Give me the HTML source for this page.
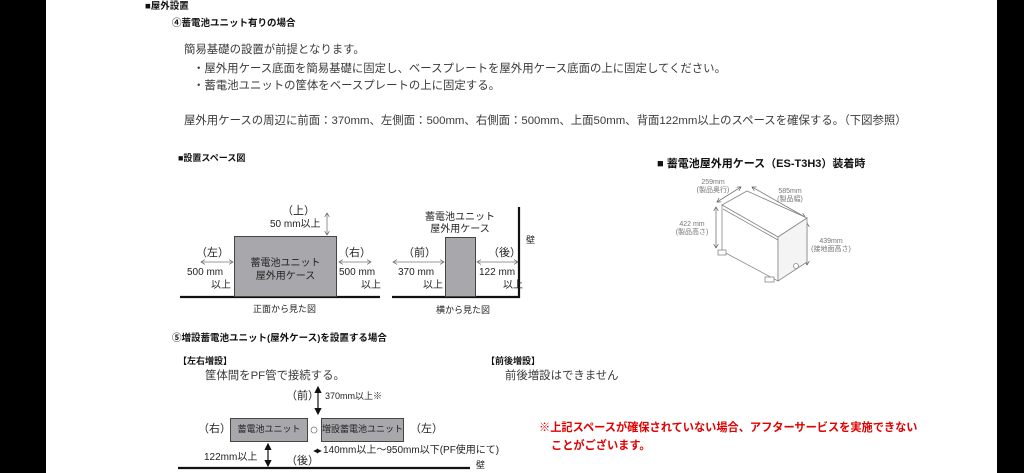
<!DOCTYPE html>
<html><head><meta charset="utf-8"><style>
body{margin:0;width:1024px;height:473px;background:#000;position:relative;overflow:hidden;font-family:"Liberation Sans","Noto Sans CJK JP",sans-serif;color:#333}
#pg{position:absolute;left:46px;top:0;width:951px;height:473px;background:#fff}
.t{position:absolute;white-space:nowrap;line-height:1}
.b{font-weight:bold;color:#111}
.box{position:absolute;background:#a8a8ac;border:1px solid #444;box-sizing:border-box}
.s{font-size:10px;color:#222}
.m{font-size:11.4px;color:#3a3a3a}
</style></head><body>
<div id="pg"></div>
<div class="t b" style="left:145px;top:2px;font-size:9.5px">■屋外設置</div>
<div class="t b" style="left:172px;top:19px;font-size:9.5px">④蓄電池ユニット有りの場合</div>
<div class="t m" style="left:184px;top:45px">簡易基礎の設置が前提となります。</div>
<div class="t m" style="left:193px;top:64px">・屋外用ケース底面を簡易基礎に固定し、ベースプレートを屋外用ケース底面の上に固定してください。</div>
<div class="t m" style="left:193px;top:81px">・蓄電池ユニットの筐体をベースプレートの上に固定する。</div>
<div class="t m" style="left:184px;top:116px">屋外用ケースの周辺に前面：370mm、左側面：500mm、右側面：500mm、上面50mm、背面122mm以上のスペースを確保する。（下図参照）</div>
<div class="t b" style="left:178px;top:154px;font-size:9px">■設置スペース図</div>

<svg style="position:absolute;left:0;top:0" width="1024" height="473">
<defs><marker id="a" markerWidth="6" markerHeight="6" refX="5" refY="3" orient="auto-start-reverse"><path d="M0,0 L5,3 L0,6" fill="none" stroke="#555" stroke-width="0.8"/></marker>
<marker id="k" markerWidth="6" markerHeight="6" refX="5" refY="3" orient="auto-start-reverse"><path d="M0,0 L6,3 L0,6z" fill="#111"/></marker></defs>
<g stroke="#111" stroke-width="2.2"><line x1="180" y1="297" x2="380" y2="297"/><line x1="392" y1="297" x2="520" y2="297"/><line x1="519" y1="207" x2="519" y2="298"/><line x1="178" y1="468" x2="470" y2="468"/></g>
<g stroke="#777" stroke-width="0.8" fill="none" marker-start="url(#a)" marker-end="url(#a)">
<line x1="327" y1="213" x2="327" y2="235"/><line x1="201" y1="262" x2="233" y2="262"/><line x1="339" y1="262" x2="371" y2="262"/>
<line x1="393" y1="262" x2="444" y2="262"/><line x1="477" y1="262" x2="518" y2="262"/>
<line x1="717" y1="202" x2="741" y2="187"/><line x1="752" y1="187" x2="805" y2="217"/>
<line x1="716" y1="207" x2="716" y2="248"/><line x1="807" y1="223" x2="807" y2="265"/>
</g>
<g stroke="#111" stroke-width="1.2" marker-start="url(#k)" marker-end="url(#k)">
<line x1="318" y1="387" x2="318" y2="414"/><line x1="268" y1="444" x2="268" y2="466"/><line x1="314" y1="451" x2="321" y2="451" stroke-width="0.8"/>
</g>
<g stroke="#888" stroke-width="0.8" fill="#fff">
<polygon points="722,205 747,191 807,218 778,237"/>
<polygon points="722,205 778,237 778,281 722,251"/>
<polygon points="778,237 807,218 807,262 778,281" fill="#f4f4f4"/>
<line x1="723" y1="209" x2="778" y2="240"/>
<rect x="718" y="250" width="8" height="5"/><rect x="765" y="277" width="9" height="5"/>
<circle cx="796" cy="266" r="2.5"/>
<circle cx="314" cy="430" r="3" stroke="#777"/>
</g>
</svg>

<div class="box" style="left:234px;top:236px;width:103px;height:61px"></div>
<div class="t s" style="left:234px;top:257px;width:103px;text-align:center;line-height:13px">蓄電池ユニット<br>屋外用ケース</div>
<div class="t s" style="left:282px;top:206px;font-size:11px">（上）</div>
<div class="t s" style="left:270px;top:220px">50 mm以上</div>
<div class="t s" style="left:196px;top:248px;font-size:11px">（左）</div>
<div class="t s" style="left:187px;top:268px">500 mm</div>
<div class="t s" style="left:211px;top:281px">以上</div>
<div class="t s" style="left:338px;top:248px;font-size:11px">（右）</div>
<div class="t s" style="left:339px;top:268px">500 mm</div>
<div class="t s" style="left:361px;top:281px">以上</div>
<div class="t s" style="left:253px;top:305px;font-size:9px">正面から見た図</div>

<div class="box" style="left:445px;top:237px;width:31px;height:60px"></div>
<div class="t s" style="left:420px;top:212px;width:80px;text-align:center;line-height:12px">蓄電池ユニット<br>屋外用ケース</div>
<div class="t s" style="left:403px;top:248px;font-size:11px">（前）</div>
<div class="t s" style="left:398px;top:268px">370 mm</div>
<div class="t s" style="left:423px;top:281px">以上</div>
<div class="t s" style="left:488px;top:248px;font-size:11px">（後）</div>
<div class="t s" style="left:479px;top:268px">122 mm</div>
<div class="t s" style="left:503px;top:281px">以上</div>
<div class="t s" style="left:526px;top:236px;font-size:9px">壁</div>
<div class="t s" style="left:436px;top:306px;font-size:9px">横から見た図</div>

<div class="t b" style="left:657px;top:159px;font-size:11px">■ 蓄電池屋外用ケース（ES-T3H3）装着時</div>
<div class="t" style="left:690px;top:179px;font-size:7px;color:#777;width:46px;text-align:center;line-height:8px">259mm<br>(製品奥行)</div>
<div class="t" style="left:770px;top:188px;font-size:7px;color:#777;width:40px;text-align:center;line-height:8px">585mm<br>(製品幅)</div>
<div class="t" style="left:672px;top:221px;font-size:7px;color:#777;width:40px;text-align:center;line-height:8px">422 mm<br>(製品高さ)</div>
<div class="t" style="left:808px;top:238px;font-size:7px;color:#777;width:46px;text-align:center;line-height:8px">439mm<br>(接地面高さ)</div>

<div class="t b" style="left:172px;top:334px;font-size:9.5px">⑤増設蓄電池ユニット(屋外ケース)を設置する場合</div>
<div class="t b" style="left:178px;top:357px;font-size:9px">【左右増設】</div>
<div class="t m" style="left:205px;top:371px">筐体間をPF管で接続する。</div>
<div class="t s" style="left:286px;top:391px;font-size:11px">（前）</div>
<div class="t s" style="left:325px;top:392px;font-size:9px">370mm以上※</div>
<div class="box" style="left:230px;top:418px;width:78px;height:24px"></div>
<div class="t s" style="left:230px;top:425px;width:78px;text-align:center;font-size:9px">蓄電池ユニット</div>
<div class="box" style="left:321px;top:418px;width:83px;height:24px"></div>
<div class="t s" style="left:321px;top:425px;width:83px;text-align:center;font-size:9px">増設蓄電池ユニット</div>
<div class="t s" style="left:198px;top:424px;font-size:11px">（右）</div>
<div class="t s" style="left:410px;top:424px;font-size:11px">（左）</div>
<div class="t s" style="left:323px;top:446px;font-size:10px">140mm以上～950mm以下(PF使用にて)</div>
<div class="t s" style="left:204px;top:453px;font-size:10px">122mm以上</div>
<div class="t s" style="left:286px;top:456px;font-size:11px">（後）</div>
<div class="t s" style="left:476px;top:461px;font-size:9px">壁</div>
<div class="t b" style="left:486px;top:357px;font-size:9px">【前後増設】</div>
<div class="t m" style="left:505px;top:371px">前後増設はできません</div>
<div class="t" style="left:539px;top:423px;font-size:11.2px;font-weight:bold;color:#e00000">※上記スペースが確保されていない場合、アフターサービスを実施できない</div>
<div class="t" style="left:551px;top:441px;font-size:11.2px;font-weight:bold;color:#e00000">ことがございます。</div>
</body></html>
